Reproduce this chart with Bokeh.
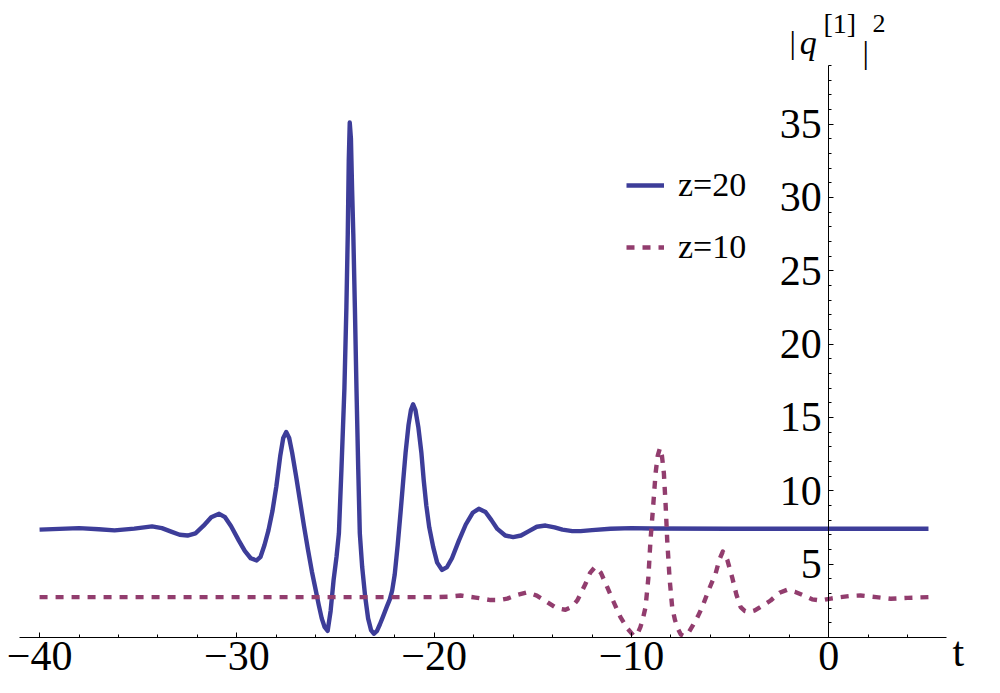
from bokeh.plotting import figure
from bokeh.models import Range1d, LinearAxis, FixedTicker, Label, Legend, LegendItem, ColumnDataSource
from bokeh.embed import file_html
from bokeh.resources import INLINE

# ---- data ----
t_z20 = [-40.0, -39.0, -38.0, -37.0, -36.2, -35.2, -34.3, -33.8, -33.3, -32.9, -32.5, -32.1,
         -31.7, -31.3, -30.9, -30.6, -30.3, -29.9, -29.6, -29.3, -29.0, -28.8, -28.6, -28.4,
         -28.2, -28.0, -27.8, -27.65, -27.5, -27.35, -27.2, -27.0, -26.8, -26.6, -26.4, -26.2,
         -26.0, -25.85, -25.7, -25.55, -25.4, -25.25, -25.1, -24.95, -24.83, -24.7,
         -24.55, -24.45, -24.38, -24.33, -24.28, -24.22, -24.16, -24.10, -24.02, -23.94, -23.85,
         -23.77, -23.65, -23.5, -23.35, -23.2, -23.06, -22.9, -22.75, -22.6, -22.4, -22.25,
         -22.13, -22.0, -21.85, -21.7, -21.57, -21.45, -21.3, -21.18, -21.07, -20.95, -20.8,
         -20.65, -20.53, -20.4, -20.25, -20.05, -19.85, -19.6, -19.35, -19.1, -18.75, -18.4,
         -18.05, -17.74, -17.4, -17.1, -16.8, -16.4, -16.0, -15.6, -15.2, -14.8, -14.36,
         -13.9, -13.5, -13.0, -12.58, -12.0, -11.07, -10.0, -9.0, -5.0, 0.0, 5.05]
q_z20 = [7.35, 7.40, 7.45, 7.38, 7.30, 7.42, 7.57, 7.45, 7.20, 7.00, 6.95, 7.10,
         7.60, 8.20, 8.43, 8.20, 7.60, 6.60, 5.90, 5.40, 5.25, 5.50, 6.30, 7.30,
         8.60, 10.30, 12.40, 13.60, 14.00, 13.60, 12.60, 11.00, 9.30, 7.60, 6.00, 4.50,
         3.20, 2.20, 1.30, 0.70, 0.45, 1.80, 3.90, 5.50, 7.10, 11.50,
         17.00, 22.50, 27.50, 32.50, 35.10, 34.00, 30.50, 27.50, 22.50, 17.00, 11.50,
         7.10, 4.80, 2.80, 1.30, 0.50, 0.25, 0.45, 0.90, 1.40, 2.10, 2.60,
         3.20, 4.30, 6.30, 8.60, 10.70, 12.60, 14.50, 15.50, 15.90, 15.50, 14.30,
         12.60, 10.70, 9.00, 7.50, 6.16, 5.10, 4.60, 4.80, 5.40, 6.60, 7.70,
         8.50, 8.77, 8.55, 8.00, 7.40, 6.95, 6.84, 6.95, 7.25, 7.55, 7.63,
         7.50, 7.35, 7.25, 7.25, 7.32, 7.41, 7.45, 7.43, 7.41, 7.41, 7.41]

t_z10 = [-40.0, -30.0, -20.0, -19.3, -18.67, -17.9, -17.15, -16.7, -16.3, -15.8, -15.29,
         -14.8, -14.27, -13.8, -13.35, -13.0, -12.75, -12.33, -12.1, -11.85, -11.55, -11.23,
         -10.9, -10.56, -10.2, -9.88, -9.7, -9.55, -9.42, -9.29, -9.15, -9.04, -8.9, -8.78,
         -8.67, -8.56, -8.46, -8.36, -8.27, -8.19, -8.07, -7.94, -7.8, -7.65, -7.5, -7.35,
         -7.1, -6.9, -6.65, -6.42, -6.1, -5.74, -5.55, -5.37, -5.15, -4.9, -4.68, -4.47,
         -4.25, -4.05, -3.75, -3.5, -2.95, -2.5, -2.11, -1.7, -1.27, -0.85, -0.42, 0.1,
         0.6, 1.1, 1.6, 2.4, 3.13, 4.0, 5.07]
q_z10 = [2.75, 2.75, 2.75, 2.78, 2.86, 2.72, 2.55, 2.55, 2.65, 2.90, 3.08,
         2.85, 2.41, 2.00, 1.89, 2.10, 2.52, 3.66, 4.40, 4.80, 4.40, 3.43,
         2.40, 1.39, 0.60, 0.10, 0.25, 0.70, 1.30, 2.07, 4.00, 6.60, 9.00, 11.20,
         12.40, 12.90, 12.40, 11.20, 9.00, 6.60, 4.00, 2.07, 1.20, 0.60, 0.20, 0.10,
         0.35, 0.80, 1.40, 2.07, 3.20, 4.35, 5.30, 5.86, 5.30, 4.10, 2.90, 2.07,
         1.80, 1.73, 1.85, 2.05, 2.52, 3.05, 3.25, 3.10, 2.86, 2.60, 2.52, 2.65,
         2.75, 2.83, 2.86, 2.75, 2.64, 2.70, 2.75]

series_labels = ["z=20", "z=10"]

x_major_ticks = [-40, -30, -20, -10, 0]
x_tick_labels = ["\u221240", "\u221230", "\u221220", "\u221210", "0"]
x_minor_ticks = list(range(-40, 6, 2))
x_axis_bounds = (-41.0, 5.96)
y_major_ticks = [5, 10, 15, 20, 25, 30, 35]
y_minor_ticks = list(range(0, 40))
y_axis_bounds = (0.0, 39.0)

BLUE = "#3d3d99"
PURPLE = "#923d6e"
FONT = "Liberation Serif"

# the frame fills the whole canvas; axes are drawn at fixed positions with bounds
p = figure(width=1000, height=693,
           x_range=Range1d(-41.98, 8.70), y_range=Range1d(-3.82, 43.42),
           x_axis_type=None, y_axis_type=None,
           output_backend="svg", toolbar_location=None,
           min_border=0)
p.outline_line_color = None
p.background_fill_color = "white"
p.border_fill_color = "white"

common = dict(major_tick_in=5, major_tick_out=0, minor_tick_in=3, minor_tick_out=0,
              major_label_text_font=FONT, major_label_text_font_size="42px",
              major_label_text_color="black", axis_line_color="black",
              major_tick_line_color="black", minor_tick_line_color="black")

xaxis = LinearAxis(fixed_location=0, bounds=x_axis_bounds,
                   ticker=FixedTicker(ticks=x_major_ticks, minor_ticks=x_minor_ticks),
                   major_label_overrides=dict(zip(x_major_ticks, x_tick_labels)),
                   major_label_standoff=5, **common)
p.add_layout(xaxis, "below")

yaxis = LinearAxis(fixed_location=0, bounds=y_axis_bounds,
                   ticker=FixedTicker(ticks=y_major_ticks, minor_ticks=y_minor_ticks),
                   major_label_standoff=7, **common)
p.add_layout(yaxis, "left")

src20 = ColumnDataSource(dict(t=t_z20, q=q_z20))
src10 = ColumnDataSource(dict(t=t_z10, q=q_z10))
r1 = p.line("t", "q", source=src20, line_color=BLUE, line_width=4.4, line_join="round")
r2 = p.line("t", "q", source=src10, line_color=PURPLE, line_width=4.4, line_dash="8 8",
            line_join="round")

legend = Legend(items=[LegendItem(label=series_labels[0], renderers=[r1]),
                       LegendItem(label=series_labels[1], renderers=[r2])],
                location=(626, 426), padding=0, margin=0, spacing=22,
                glyph_width=38, glyph_height=40, label_height=40, label_standoff=14,
                label_text_font=FONT, label_text_font_size="34px",
                label_text_color="black",
                border_line_color=None, background_fill_alpha=0)
p.add_layout(legend)

# axis titles
p.add_layout(Label(x=6.27, y=-1.02, text="t", text_font=FONT, text_font_size="42px",
                   text_baseline="alphabetic", text_align="left", text_color="black"))
p.add_layout(Label(x=-1.99, y=40.56, text="|", text_font=FONT, text_font_size="32px",
                   text_baseline="alphabetic", text_align="left", text_color="black"))
p.add_layout(Label(x=-1.48, y=40.56, text="q", text_font=FONT, text_font_size="34px",
                   text_font_style="italic",
                   text_baseline="alphabetic", text_align="left", text_color="black"))
p.add_layout(Label(x=-0.27, y=41.85, text="[1]", text_font=FONT, text_font_size="28px",
                   text_baseline="alphabetic", text_align="left", text_color="black"))
p.add_layout(Label(x=1.71, y=39.94, text="|", text_font=FONT, text_font_size="32px",
                   text_baseline="alphabetic", text_align="left", text_color="black"))
p.add_layout(Label(x=2.21, y=41.85, text="2", text_font=FONT, text_font_size="26px",
                   text_baseline="alphabetic", text_align="left", text_color="black"))

open("out.html", "w").write(file_html(p, INLINE))
